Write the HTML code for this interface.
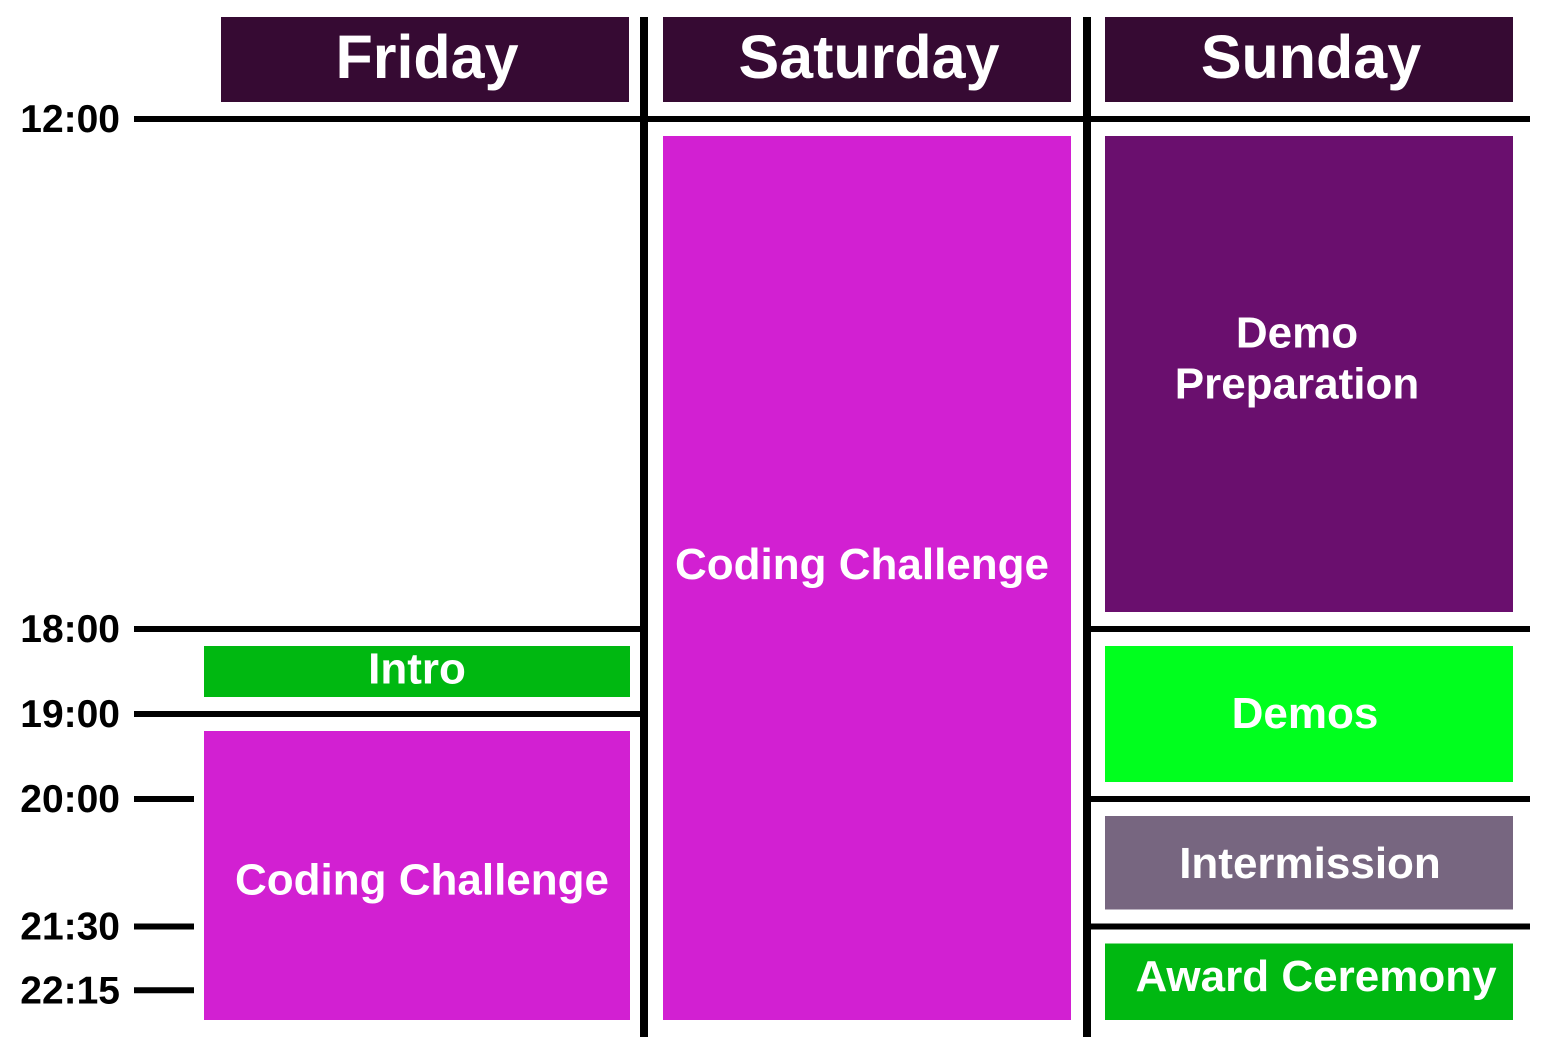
<!DOCTYPE html>
<html><head><meta charset="utf-8"><style>
html,body{margin:0;padding:0;background:#fff;}
body{width:1547px;height:1054px;position:relative;overflow:hidden;font-family:"Liberation Sans",sans-serif;}
</style></head><body>
<svg id="chart" width="1547" height="1054" xmlns="http://www.w3.org/2000/svg"></svg>
<script>
const days = ["Friday","Saturday","Sunday"];
const tickLabels = ["12:00","18:00","19:00","20:00","21:30","22:15"];
const tickHours = [12,18,19,20,21.5,22.25];
const eventNames = ["Intro","Coding Challenge","Coding Challenge","Demo Preparation","Demos","Intermission","Award Ceremony"];
const eventDays = [0,0,1,2,2,2,2];
const eventStarts = [18,19,12,12,18,20,21.5];
const eventEnds = [19,22.8,22.8,18,20,21.5,22.8];
const eventColors = ["#00b811","#d220d2","#d220d2","#6a0f6e","#00ff1e","#776680","#00b811"];
// label layout tweaks (pixels, not data)
const labelDX = [0,5,-5,-12,-4,1,7];
const labelDY = [-3,4,-14,4,-1,0,-6];

const svg = document.getElementById('chart');
const NS = "http://www.w3.org/2000/svg";
const y = h => 119 + (h - 12) * 85;
const colX = d => 221 + d * 442;
function el(tag, attrs, parent){ const e=document.createElementNS(NS,tag); for(const k in attrs) e.setAttribute(k,attrs[k]); (parent||svg).appendChild(e); return e; }

days.forEach((d,i)=>{
  const r = el('rect',{x:colX(i),y:17,width:408,height:85,fill:'#360a33'});
  
  
  const t = el('text',{x:colX(i)+206,y:78,fill:'#fff','font-size':61,'font-weight':'bold','text-anchor':'middle'});
  t.textContent = d;
  
  
});
eventNames.forEach((n,i)=>{
  const d = eventDays[i];
  const x0 = d===0 ? 204 : colX(d);
  const w = d===0 ? 426 : 408;
  const y0 = y(eventStarts[i]) + 17, y1 = y(eventEnds[i]) - 17;
  const r = el('rect',{x:x0,y:y0,width:w,height:y1-y0,fill:eventColors[i]});
  
  
  const words = n==="Demo Preparation" ? ["Demo","Preparation"] : [n];
  const cy = (y0+y1)/2 + labelDY[i];
  words.forEach((wd,j)=>{
    const t = el('text',{x:x0+w/2+labelDX[i],y:cy+15+(j-(words.length-1)/2)*51 - (words.length>1?20:0),fill:'#fff','font-size':44,'font-weight':'bold','text-anchor':'middle'});
    t.textContent = wd;
    
    
  });
});
tickHours.forEach((h,i)=>{
  const t = el('text',{x:120,y:y(h)+13,fill:'#000','font-size':39,'font-weight':'bold','text-anchor':'end'});
  t.textContent = tickLabels[i];
  
  
  let x2 = 194;
  if (h===12) x2 = 1530; else if (h===18||h===19) x2 = 644;
  const l = el('line',{x1:134,x2:x2,y1:y(h),y2:y(h),stroke:'#000','stroke-width':6});
  
  
  if (h===18||h===20||h===21.5){
    const l2 = el('line',{x1:1087,x2:1530,y1:y(h),y2:y(h),stroke:'#000','stroke-width':6});
    
    
  }
});
[644,1087].forEach(x=>{
  const l = el('line',{x1:x,x2:x,y1:17,y2:1037,stroke:'#000','stroke-width':8});
  
  
});
</script>
</body></html>
